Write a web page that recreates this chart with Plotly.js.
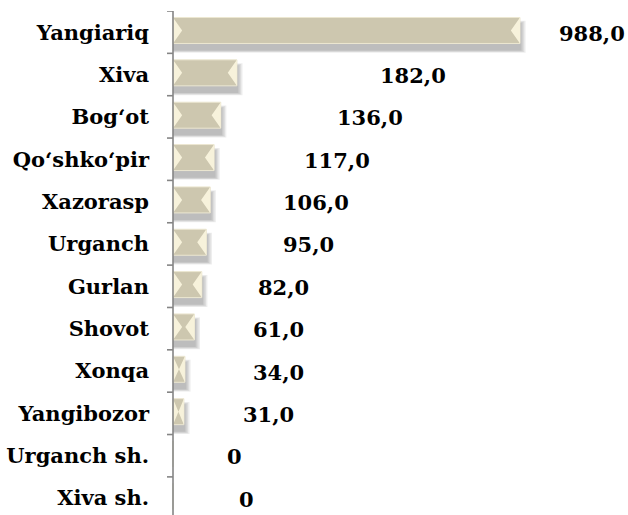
<!DOCTYPE html>
<html><head><meta charset="utf-8">
<script src="https://cdn.plot.ly/plotly-3.0.1.min.js"></script>
<style>html,body{margin:0;padding:0;background:#fff}#chart{width:628px;height:515px}</style>
</head><body><div id="chart"></div>
<script>
const categories = ['Yangiariq','Xiva','Bog‘ot','Qo‘shko‘pir','Xazorasp','Urganch','Gurlan','Shovot','Xonqa','Yangibozor','Urganch sh.','Xiva sh.'];
const values = [988,182,136,117,106,95,82,61,34,31,0,0];
const valueLabels = ['988,0','182,0','136,0','117,0','106,0','95,0','82,0','61,0','34,0','31,0','0','0'];
// layout: horizontal placement of each value label (data units), as in the reference
const labelX = [1192,683,562,467,407,387,316,299,300,273,175,209];

const idx = categories.map((c,i)=>i);
const bounds = categories.map((c,i)=>i-0.5).concat([categories.length-0.5]);
const FONT = 'DejaVu Serif';
const FSIZE = 21;
const barW = 0.614, shift = -0.04;
const yr = [11.4,-0.5];
const pxPerUnit = 0.3512, leftPad = 10, plotL = 163;
const xr = [-leftPad/pxPerUnit, (628-plotL-leftPad)/pxPerUnit];
const traces = [];

for (let k=1;k<=4;k++){
  const w = barW + 0.035*k;
  traces.push({type:'bar', orientation:'h', y:idx, x:values.map(v=> v>0 ? v+4*k : 0),
    width:w, offset:0.11 - w/2, marker:{color:'rgba(0,0,0,0.07)', line:{width:0}},
    hoverinfo:'skip', showlegend:false});
}
traces.push({type:'bar', orientation:'h', y:idx, x:values, width:barW, offset:shift-barW/2,
  marker:{color:'#CDC7AF', line:{color:'#ECE7D1', width:1}}, hoverinfo:'skip', showlegend:false});

const depth = 26, h = barW/2;
const tx=[], ty=[];
values.forEach((v,i)=>{
  if(v<=0) return;
  const d = Math.min(depth, v/2), c = i+shift;
  tx.push(0, d, 0, 0, null); ty.push(c-h, c, c+h, c-h, null);
  tx.push(v, v-d, v, v, null); ty.push(c-h, c, c+h, c-h, null);
});
traces.push({type:'scatter', mode:'lines', x:tx, y:ty, fill:'toself', fillcolor:'#F7F2DB',
  line:{width:0, color:'#F7F2DB'}, hoverinfo:'skip', showlegend:false});

// category axis line and boundary ticks
const ax=[], ay=[];
ax.push(0,0,null); ay.push(yr[1], yr[0], null);
bounds.forEach(b=>{ ax.push(-6/pxPerUnit, 0, null); ay.push(b, b, null); });
traces.push({type:'scatter', mode:'lines', x:ax, y:ay, line:{color:'#858585', width:1.6}, hoverinfo:'skip', showlegend:false});

const annotations = valueLabels.map((t,i)=>({x:labelX[i], y:i, text:'<b>'+t+'</b>', showarrow:false,
  xanchor:'center', yanchor:'middle', yshift:-1,
  font:{family:FONT, size:FSIZE, color:'#000'}}));

const layout = {
  width:628, height:515, margin:{l:plotL, r:0, t:11, b:0},
  paper_bgcolor:'#fff', plot_bgcolor:'#fff', barmode:'overlay', showlegend:false,
  font:{family:FONT, color:'#000'},
  xaxis:{range:xr, visible:false, fixedrange:true},
  yaxis:{range:yr, tickmode:'array', tickvals:idx, ticktext:categories.map(c=>'<b>'+c+'</b>'),
    ticks:'', showgrid:false, zeroline:false, showline:false,
    ticklabelstandoff:13,
    tickfont:{family:FONT, size:FSIZE, color:'#000'}},
  annotations
};
Plotly.newPlot('chart', traces, layout, {displayModeBar:false, staticPlot:true});
</script></body></html>
